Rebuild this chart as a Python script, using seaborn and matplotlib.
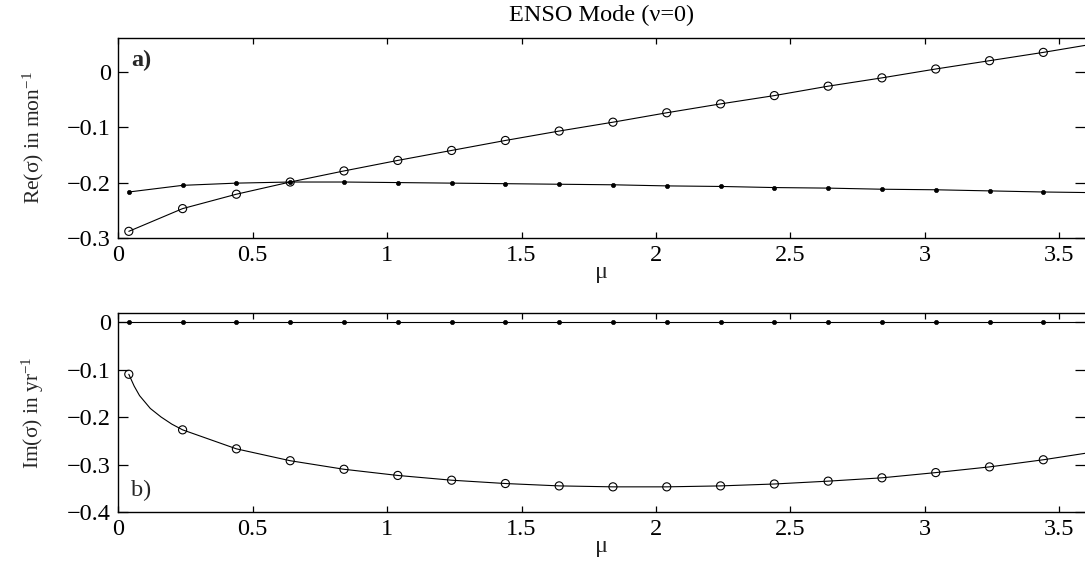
import numpy as np
import matplotlib
matplotlib.use("Agg")
import matplotlib.pyplot as plt
import seaborn as sns
from matplotlib.ticker import FixedLocator, FixedFormatter

# ---- data -------------------------------------------------------------
# coupling parameter at which the growth rates were computed
mu_pts = [0.04, 0.24, 0.44, 0.64, 0.84, 1.04, 1.24, 1.44, 1.64,
          1.84, 2.04, 2.24, 2.44, 2.64, 2.84, 3.04, 3.24, 3.44]

# Re(sigma) in 1/month
re_open = [-0.288, -0.247, -0.221, -0.199, -0.179, -0.160, -0.142, -0.124, -0.107,
           -0.091, -0.074, -0.058, -0.043, -0.026, -0.011, 0.005, 0.020, 0.035]
re_dot = [-0.217, -0.205, -0.201, -0.199, -0.199, -0.200, -0.201, -0.202, -0.203,
          -0.204, -0.206, -0.207, -0.209, -0.210, -0.212, -0.213, -0.215, -0.217]

# Im(sigma) in 1/year
im_open = [-0.110, -0.227, -0.267, -0.292, -0.310, -0.323, -0.333, -0.340, -0.345,
           -0.347, -0.347, -0.345, -0.341, -0.335, -0.328, -0.317, -0.305, -0.290]
im_dot = [0.0] * len(mu_pts)

# continuation of the curves between / beyond the sampled points
mu_end = 3.6
re_open_end, re_dot_end = 0.048, -0.218
im_open_end, im_dot_end = -0.276, 0.0
mu_im_early = [0.06, 0.08, 0.12, 0.16, 0.20]
im_open_early = [-0.135, -0.155, -0.182, -0.200, -0.215]

x_ticks = [0, 0.5, 1, 1.5, 2, 2.5, 3, 3.5]
x_tick_labels = ["0", "0.5", "1", "1.5", "2", "2.5", "3", "3.5"]
re_ticks = [0, -0.1, -0.2, -0.3]
re_tick_labels = ["0", "\u22120.1", "\u22120.2", "\u22120.3"]
im_ticks = [0, -0.1, -0.2, -0.3, -0.4]
im_tick_labels = ["0", "\u22120.1", "\u22120.2", "\u22120.3", "\u22120.4"]

# ---- style ------------------------------------------------------------
sns.set_theme(style="white")
plt.rcParams["font.family"] = ["Liberation Serif", "DejaVu Serif"]
plt.rcParams["mathtext.fontset"] = "custom"
plt.rcParams["mathtext.rm"] = "Liberation Serif"
plt.rcParams["mathtext.it"] = "Liberation Serif:italic"
plt.rcParams["axes.edgecolor"] = "black"
plt.rcParams["axes.linewidth"] = 1.0

FS = 17.5      # tick labels, title, panel tags
FS_Y = 15.5    # rotated axis labels

fig = plt.figure(figsize=(10.85, 5.61), dpi=100)
ax1 = fig.add_axes([0.1088, 0.5758, 0.8912, 0.3565])
ax2 = fig.add_axes([0.1088, 0.0873, 0.8912, 0.3548])


def curve(ax, x, y):
    sns.lineplot(x=x, y=y, ax=ax, color="black", linewidth=0.8,
                 sort=False, estimator=None)


def open_marks(ax, x, y):
    sns.scatterplot(x=x, y=y, ax=ax, marker="o", s=34, facecolor="none",
                    edgecolor="black", linewidth=0.8, zorder=3)


def dot_marks(ax, x, y):
    sns.scatterplot(x=x, y=y, ax=ax, marker="o", s=9, color="black",
                    edgecolor="black", linewidth=0.5, zorder=3)


# panel a: real part
curve(ax1, mu_pts + [mu_end], re_open + [re_open_end])
curve(ax1, mu_pts + [mu_end], re_dot + [re_dot_end])
open_marks(ax1, mu_pts, re_open)
dot_marks(ax1, mu_pts, re_dot)

# panel b: imaginary part
im_x = [mu_pts[0]] + mu_im_early + mu_pts[1:] + [mu_end]
im_y = [im_open[0]] + im_open_early + im_open[1:] + [im_open_end]
curve(ax2, im_x, im_y)
curve(ax2, [0.0] + mu_pts + [mu_end], [0.0] + im_dot + [im_dot_end])
open_marks(ax2, mu_pts, im_open)
dot_marks(ax2, mu_pts, im_dot)

for ax, yt, ytl, ylim in [(ax1, re_ticks, re_tick_labels, (-0.3, 0.061)),
                          (ax2, im_ticks, im_tick_labels, (-0.4, 0.019))]:
    ax.set_xlim(0, 3.595)
    ax.set_ylim(*ylim)
    ax.xaxis.set_major_locator(FixedLocator(x_ticks))
    ax.xaxis.set_major_formatter(FixedFormatter(x_tick_labels))
    ax.yaxis.set_major_locator(FixedLocator(yt))
    ax.yaxis.set_major_formatter(FixedFormatter(ytl))
    ax.tick_params(axis="x", direction="in", length=4, width=0.9, top=True,
                   bottom=True, labelsize=FS, pad=5, colors="black")
    ax.tick_params(axis="y", direction="in", length=7, width=0.9, left=True,
                   right=True, labelsize=FS, pad=5, colors="black")
    ax.spines["right"].set_visible(False)
    ax.set_xlabel("\u03bc", fontsize=FS, labelpad=-3)

ax1.set_ylabel("Re(\u03c3) in mon$^{-1}$", fontsize=FS_Y)
ax2.set_ylabel("Im(\u03c3) in yr$^{-1}$", fontsize=FS_Y)
ax1.yaxis.set_label_coords(-0.074, 0.5)
ax2.yaxis.set_label_coords(-0.074, 0.5)

ax1.text(0.05, 0.02, "a)", fontsize=FS, fontweight="bold", va="center")
ax2.text(0.05, -0.354, "b)", fontsize=FS, va="center")

ax1.set_title("ENSO Mode (\u03bd=0)", fontsize=FS, pad=12, color="black")

fig.savefig("out.png", dpi=100)
